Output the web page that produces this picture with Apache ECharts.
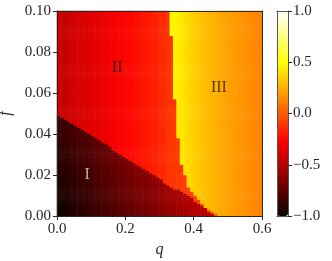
<!DOCTYPE html>
<html><head><meta charset="utf-8">
<script src="https://cdn.jsdelivr.net/npm/echarts@6/dist/echarts.min.js"></script>
<style>html,body{margin:0;padding:0;background:#fff}#c{width:332px;height:261px}</style>
</head><body><div id="c"></div>
<script>
// ---- axis / tick data ----
const qTicks = [0, 0.2, 0.4, 0.6];
const fTicks = [0, 0.02, 0.04, 0.06, 0.08, 0.10];
const cbTicks = [-1, -0.5, 0, 0.5, 1];
const nQ = 60;   // columns, q step 0.01
const nF = 100;  // rows, f step 0.001

// number of rows (from f=0) belonging to region I, per q column
const regionIRows = [49,48,47,46,45,44,43,42,41,40,39,38,37,36,35,34,32,31,30,29,28,27,26,25,24,23,22,21,20,19,18,16,15,14,13,13,12,11,10,9,7,6,5,4,2,1,0,0,0,0,0,0,0,0,0,0,0,0,0,0];
// first q column of region III, per f row
const regionIIIStart = [47,46,45,44,43,43,42,42,41,41,40,40,39,39,38,38,38,38,38,38,37,37,37,37,37,
  36,36,36,36,36,36,36,36,36,36,36,36,36,
  35,35,35,35,35,35,35,35,35,35,35,35,35,35,35,35,35,35,35,
  34,34,34,34,34,34,34,34,34,34,34,34,34,34,34,34,34,34,34,34,34,34,34,34,34,34,34,34,34,34,34,
  33,33,33,33,33,33,33,33,33,33,33,33];
// region I value: column part + row part
const regionIBase = [-0.99,-0.98,-0.97,-0.96,-0.94,-0.93,-0.92,-0.91,-0.90,-0.88,-0.87,-0.86,-0.85,-0.83,-0.82,-0.81,-0.80,-0.79,-0.77,-0.76,-0.75,-0.74,-0.72,-0.71,-0.70,-0.69,-0.68,-0.66,-0.65,-0.64,-0.63,-0.61,-0.60,-0.59,-0.58,-0.56,-0.55,-0.54,-0.53,-0.51,-0.50,-0.49,-0.48,-0.47,-0.45,-0.44,-0.43,-0.43,-0.43,-0.43,-0.43,-0.43,-0.43,-0.43,-0.43,-0.43,-0.43,-0.43,-0.43,-0.43];
const regionIRise = [0.00,0.00,0.01,0.01,0.01,0.01,0.02,0.02,0.02,0.03,0.03,0.03,0.03,0.04,0.04,0.04,0.04,0.05,0.05,0.05,0.06,0.06,0.06,0.06,0.07,0.07,0.07,0.07,0.08,0.08,0.08,0.08,0.09,0.09,0.09,0.10,0.10,0.10,0.10,0.11,0.11,0.11,0.11,0.12,0.12,0.12,0.12,0.13,0.13,0.13];
// region II value per column
const regionIIValue = [-0.44,-0.43,-0.43,-0.42,-0.41,-0.40,-0.39,-0.39,-0.38,-0.37,-0.36,-0.35,-0.34,-0.33,-0.32,-0.31,-0.30,-0.29,-0.28,-0.27,-0.26,-0.25,-0.24,-0.23,-0.22,-0.21,-0.20,-0.19,-0.18,-0.17,-0.15,-0.14,-0.12,-0.11,-0.11,-0.10,-0.10,-0.10,-0.09,-0.09,-0.09,-0.08,-0.08,-0.08,-0.08,-0.07,-0.07,-0.07,-0.07,-0.07,-0.07,-0.07,-0.07,-0.07,-0.07,-0.07,-0.07,-0.07,-0.07,-0.07];
// region III value per column
const regionIIIValue = [0.5,0.5,0.5,0.5,0.5,0.5,0.5,0.5,0.5,0.5,0.5,0.5,0.5,0.5,0.5,0.5,0.5,0.5,0.5,0.5,0.5,0.5,0.5,0.5,0.5,0.5,0.5,0.5,0.5,0.5,0.5,0.5,0.5,
  0.48,0.46,0.44,0.42,0.40,0.38,0.36,0.34,0.33,0.31,0.30,0.28,0.27,0.26,0.24,0.23,0.22,0.21,0.20,0.19,0.18,0.17,0.16,0.15,0.14,0.13,0.12];
// region annotations (data coords)
const regionNames = ['I', 'II', 'III'];
const regionNameQ = [0.088, 0.176, 0.474];
const regionNameF = [0.020, 0.0722, 0.0624];
const regionNameColor = ['#dddddd', '#1a1010', '#2a1a00'];

// ---- build heatmap table ----
const qCats = [], fCats = [];
for (let i = 0; i < nQ; i++) qCats.push(((i + 0.5) * 0.01).toFixed(3));
for (let j = 0; j < nF; j++) fCats.push(((j + 0.5) * 0.001).toFixed(4));
const cells = [];
for (let j = 0; j < nF; j++) {
  for (let i = 0; i < nQ; i++) {
    let v;
    if (j < regionIRows[i]) v = regionIBase[i] + regionIRise[j];
    else if (i >= regionIIIStart[j]) v = regionIIIValue[i];
    else v = regionIIValue[i];
    cells.push([i, j, v]);
  }
}

// matplotlib 'hot' colormap stops
function hot(t) {
  const r = Math.min(1, 0.0416 + t / 0.365079 * (1 - 0.0416));
  const g = Math.max(0, Math.min(1, (t - 0.365079) / (0.746032 - 0.365079)));
  const b = Math.max(0, Math.min(1, (t - 0.746032) / (1 - 0.746032)));
  return 'rgb(' + Math.round(r * 255) + ',' + Math.round(g * 255) + ',' + Math.round(b * 255) + ')';
}
const hotColors = [];
for (let k = 0; k <= 64; k++) hotColors.push(hot(k / 64));

const FONT = 'Liberation Serif';
const TXT = '#262626';
const labelStyle = { fontFamily: FONT, fontSize: 15, color: TXT };
const lineStyle = { color: '#262626', width: 1 };

const G = { left: 57, top: 11, width: 205, height: 205, outerBoundsMode: 'none', containLabel: false };
const CB = { left: 277, top: 11, width: 11, height: 205, outerBoundsMode: 'none', containLabel: false };

const chart = echarts.init(document.getElementById('c'), null, { renderer: 'canvas' });
chart.setOption({
  animation: false,
  backgroundColor: '#fff',
  grid: [
    Object.assign({}, G),
    Object.assign({}, G),
    Object.assign({}, CB)
  ],
  xAxis: [
    { gridIndex: 0, type: 'category', data: qCats, show: false },
    { gridIndex: 1, type: 'value', min: qTicks[0], max: qTicks[qTicks.length - 1], interval: 0.2, position: 'bottom', z: 10,
      axisLine: { show: true, onZero: false, lineStyle },
      axisTick: { show: true, length: 4, lineStyle },
      axisLabel: Object.assign({ margin: 6, formatter: v => v.toFixed(1) }, labelStyle),
      splitLine: { show: false },
      name: 'q', nameLocation: 'middle', nameGap: 24,
      nameTextStyle: { fontFamily: FONT, fontStyle: 'italic', fontSize: 16, color: TXT } },
    { gridIndex: 1, type: 'value', min: 0, max: 0.6, position: 'top', z: 10,
      axisLine: { show: true, onZero: false, lineStyle }, axisTick: { show: false }, axisLabel: { show: false }, splitLine: { show: false } },
    { gridIndex: 2, type: 'value', min: 0, max: 1, position: 'bottom', z: 10,
      axisLine: { show: true, onZero: false, lineStyle: { color: '#555', width: 1 } }, axisTick: { show: false }, axisLabel: { show: false }, splitLine: { show: false } },
    { gridIndex: 2, type: 'value', min: 0, max: 1, position: 'top', z: 10,
      axisLine: { show: true, onZero: false, lineStyle: { color: '#555', width: 1 } }, axisTick: { show: false }, axisLabel: { show: false }, splitLine: { show: false } }
  ],
  yAxis: [
    { gridIndex: 0, type: 'category', data: fCats, show: false },
    { gridIndex: 1, type: 'value', min: fTicks[0], max: fTicks[fTicks.length - 1], interval: 0.02, position: 'left', z: 10,
      axisLine: { show: true, onZero: false, lineStyle },
      axisTick: { show: true, length: 4, lineStyle },
      axisLabel: Object.assign({ margin: 6, formatter: v => v.toFixed(2) }, labelStyle),
      splitLine: { show: false },
      name: 'f', nameLocation: 'middle', nameGap: 43, nameRotate: 90,
      nameTextStyle: { fontFamily: FONT, fontStyle: 'italic', fontSize: 16, color: TXT } },
    { gridIndex: 1, type: 'value', min: 0, max: 0.1, position: 'right', z: 10,
      axisLine: { show: true, onZero: false, lineStyle }, axisTick: { show: false }, axisLabel: { show: false }, splitLine: { show: false } },
    { gridIndex: 2, type: 'value', min: cbTicks[0], max: cbTicks[cbTicks.length - 1], interval: 0.5, position: 'right', z: 10,
      axisLine: { show: true, onZero: false, lineStyle: { color: '#555', width: 1 } },
      axisTick: { show: true, length: 4, lineStyle },
      axisLabel: Object.assign({ margin: 5, formatter: v => (v < 0 ? '\u2212' : '') + Math.abs(v).toFixed(1) }, labelStyle),
      splitLine: { show: false } },
    { gridIndex: 2, type: 'value', min: -1, max: 1, position: 'left', z: 10,
      axisLine: { show: true, onZero: false, lineStyle: { color: '#555', width: 1 } }, axisTick: { show: false }, axisLabel: { show: false }, splitLine: { show: false } }
  ],
  visualMap: {
    type: 'continuous', min: cbTicks[0], max: cbTicks[cbTicks.length - 1], seriesIndex: 0,
    calculable: false, show: true, left: CB.left, top: CB.top, itemWidth: CB.width, itemHeight: CB.height,
    padding: 0, text: null, hoverLink: false, realtime: false,
    inRange: { color: hotColors }
  },
  series: [
    { type: 'heatmap', xAxisIndex: 0, yAxisIndex: 0, data: cells, progressive: 0, emphasis: { disabled: true } },
    { type: 'scatter', xAxisIndex: 1, yAxisIndex: 1, symbolSize: 0, silent: true, z: 20,
      data: regionNames.map((n, k) => ({
        value: [regionNameQ[k], regionNameF[k]], name: n,
        label: { show: true, position: 'inside', formatter: n, fontFamily: FONT, fontSize: 16, color: regionNameColor[k] }
      })) }
  ]
});
</script></body></html>
